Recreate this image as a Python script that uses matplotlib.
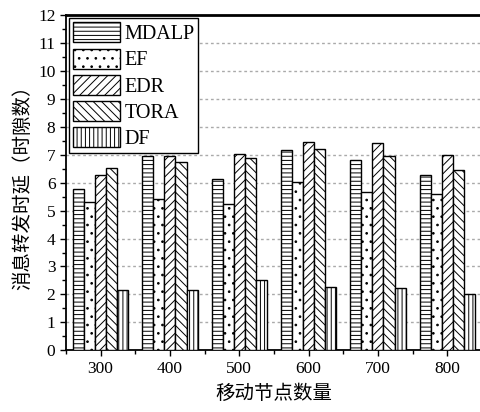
import matplotlib
matplotlib.use('Agg')
import matplotlib.pyplot as plt
import numpy as np
from matplotlib.ticker import MultipleLocator

plt.rcParams['font.family'] = ['Liberation Serif', 'Noto Sans CJK SC']
plt.rcParams['hatch.linewidth'] = 0.7

# data
nodes = [300, 400, 500, 600, 700, 800]
mdalp = [5.76, 6.94, 6.15, 7.16, 6.83, 6.28]
ef = [5.31, 5.43, 5.22, 6.03, 5.67, 5.61]
edr = [6.26, 6.97, 7.04, 7.47, 7.44, 7.01]
tora = [6.51, 6.75, 6.87, 7.20, 6.94, 6.44]
df = [2.14, 2.17, 2.53, 2.25, 2.23, 2.00]

series = [('MDALP', mdalp, '----'),
          ('EF', ef, '..'),
          ('EDR', edr, '////'),
          ('TORA', tora, '\\\\\\\\'),
          ('DF', df, '||||')]

fig = plt.figure(figsize=(4.81, 4.12), dpi=100)
ax = fig.add_axes([0.137, 0.150, 0.865, 0.813])

x = np.array(nodes)
w = 16
for i, (name, vals, hatch) in enumerate(series):
    ax.bar(x + (i - 2) * w, vals, width=w, color='white', edgecolor='black',
           linewidth=1.0, hatch=hatch, label=name, zorder=3)

ax.set_xlim(250, 850)
ax.set_ylim(0, 12)
ax.set_xticks(nodes)
ax.set_xticks([n + 50 for n in [200] + nodes], minor=True)
ax.yaxis.set_major_locator(MultipleLocator(1))
ax.yaxis.set_minor_locator(MultipleLocator(0.5))
ax.tick_params(axis='both', which='major', direction='out', length=4, width=1, labelsize=12.5)
ax.tick_params(axis='both', which='minor', direction='out', length=3, width=1)

for yv in range(1, 12):
    ax.axhline(yv, color='#aaaaaa', linestyle=(0, (2, 2)), linewidth=1.0, zorder=1)

for s in ax.spines.values():
    s.set_linewidth(1.3)
ax.spines['top'].set_linewidth(2)

ax.set_xlabel('移动节点数量', fontsize=14, labelpad=6)
ax.set_ylabel('消息转发时延（时隙数）', fontsize=14, labelpad=4)

leg = ax.legend(loc='upper left', fontsize=14.5, handlelength=2.35, handleheight=1.15,
                labelspacing=0.22, handletextpad=0.2, borderpad=0.2,
                borderaxespad=0.15, fancybox=False, framealpha=1, edgecolor='black')
leg.get_frame().set_linewidth(1.0)

fig.savefig('out.png', dpi=100)
